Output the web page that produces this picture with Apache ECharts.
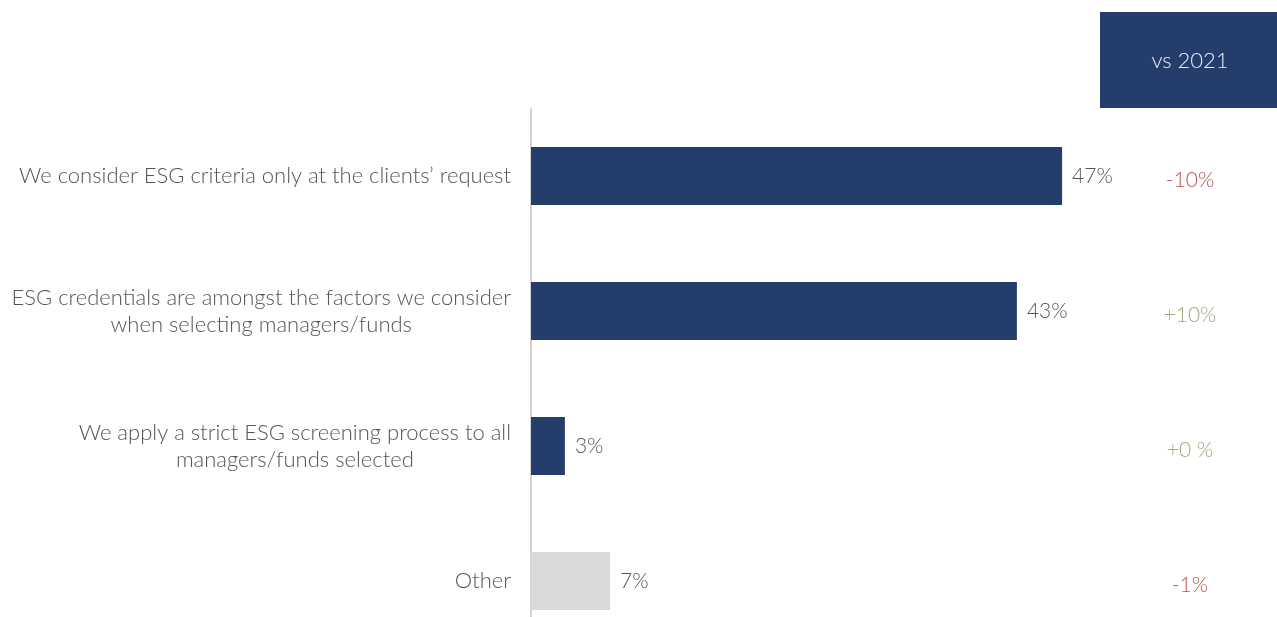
<!DOCTYPE html>
<html>
<head>
<meta charset="utf-8">
<script src="https://cdn.jsdelivr.net/npm/echarts@6/dist/echarts.min.js"></script>
<style>
  html, body { margin: 0; padding: 0; background: #ffffff; }
  #chart { width: 1277px; height: 617px; }
</style>
</head>
<body>
<div id="chart"></div>
<script>
// Approaches to ESG in manager/fund selection, share of respondents
const categories = [
  'We consider ESG criteria only at the clients\u2019 request',
  'ESG credentials are amongst the factors we consider\nwhen selecting managers/funds',
  'We apply a strict ESG screening process to all\nmanagers/funds selected',
  'Other'
];
const shares = [47, 43, 3, 7];
const changeLabels = ['-10%', '+10%', '+0 %', '-1%'];
const changeTone = ['down', 'up', 'up', 'down'];
const headerText = 'vs 2021';

const NAVY = '#253d6b';
const GREY_BAR = '#d9d9d9';
const TEXT = '#555555';
const FONT = 'Lato, "Open Sans", sans-serif';

const barData = shares.map((v, i) => ({
  value: v,
  itemStyle: { color: categories[i] === 'Other' ? GREY_BAR : NAVY }
}));

const chart = echarts.init(document.getElementById('chart'), null, { renderer: 'canvas' });
chart.setOption({
  backgroundColor: '#ffffff',
  animation: false,
  // the last category band runs past the bottom edge, so the grid is not clamped
  grid: { left: 531, top: 108.5, width: 565, height: 540, containLabel: false, outerBoundsMode: 'none' },
  xAxis: {
    type: 'value', min: 0, max: 50, show: false
  },
  yAxis: [
    {
      type: 'category', inverse: true, data: categories,
      axisLine: { show: true, lineStyle: { color: '#d4d4d4', width: 2 } },
      axisTick: { show: false },
      axisLabel: {
        margin: 20, align: 'right',
        // each line centred within the right-aligned label block
        formatter: (val) => val.split('\n').map(s => '{c|' + s + '}').join('\n'),
        rich: {
          c: { align: 'center', color: TEXT, fontFamily: FONT, fontSize: 22, fontWeight: 300, lineHeight: 27 }
        }
      }
    },
    {
      type: 'category', inverse: true, position: 'right', data: categories,
      axisLine: { show: false }, axisTick: { show: false },
      axisLabel: {
        margin: 94, align: 'center',
        formatter: (val, idx) => '{' + changeTone[idx] + '|' + changeLabels[idx] + '}',
        rich: {
          down: { color: '#b9544b', fontFamily: FONT, fontSize: 21, fontWeight: 300, padding: [8, 0, 0, 0] },
          up: { color: '#9aab7c', fontFamily: FONT, fontSize: 21, fontWeight: 300, padding: [8, 0, 0, 0] }
        }
      }
    }
  ],
  graphic: [
    {
      type: 'rect', left: 1100, top: 12,
      shape: { width: 177, height: 96 },
      style: { fill: NAVY }
    },
    {
      type: 'text', x: 1190, y: 61,
      style: { text: headerText, fill: '#e8ecf3', font: '300 22px ' + FONT, align: 'center', verticalAlign: 'middle' }
    }
  ],
  series: [
    {
      type: 'bar', yAxisIndex: 0, data: barData, barWidth: 58,
      label: {
        show: true, position: 'right', distance: 10,
        formatter: '{c}%', color: TEXT, fontFamily: FONT, fontSize: 21, fontWeight: 300
      }
    }
  ]
});
</script>
</body>
</html>
